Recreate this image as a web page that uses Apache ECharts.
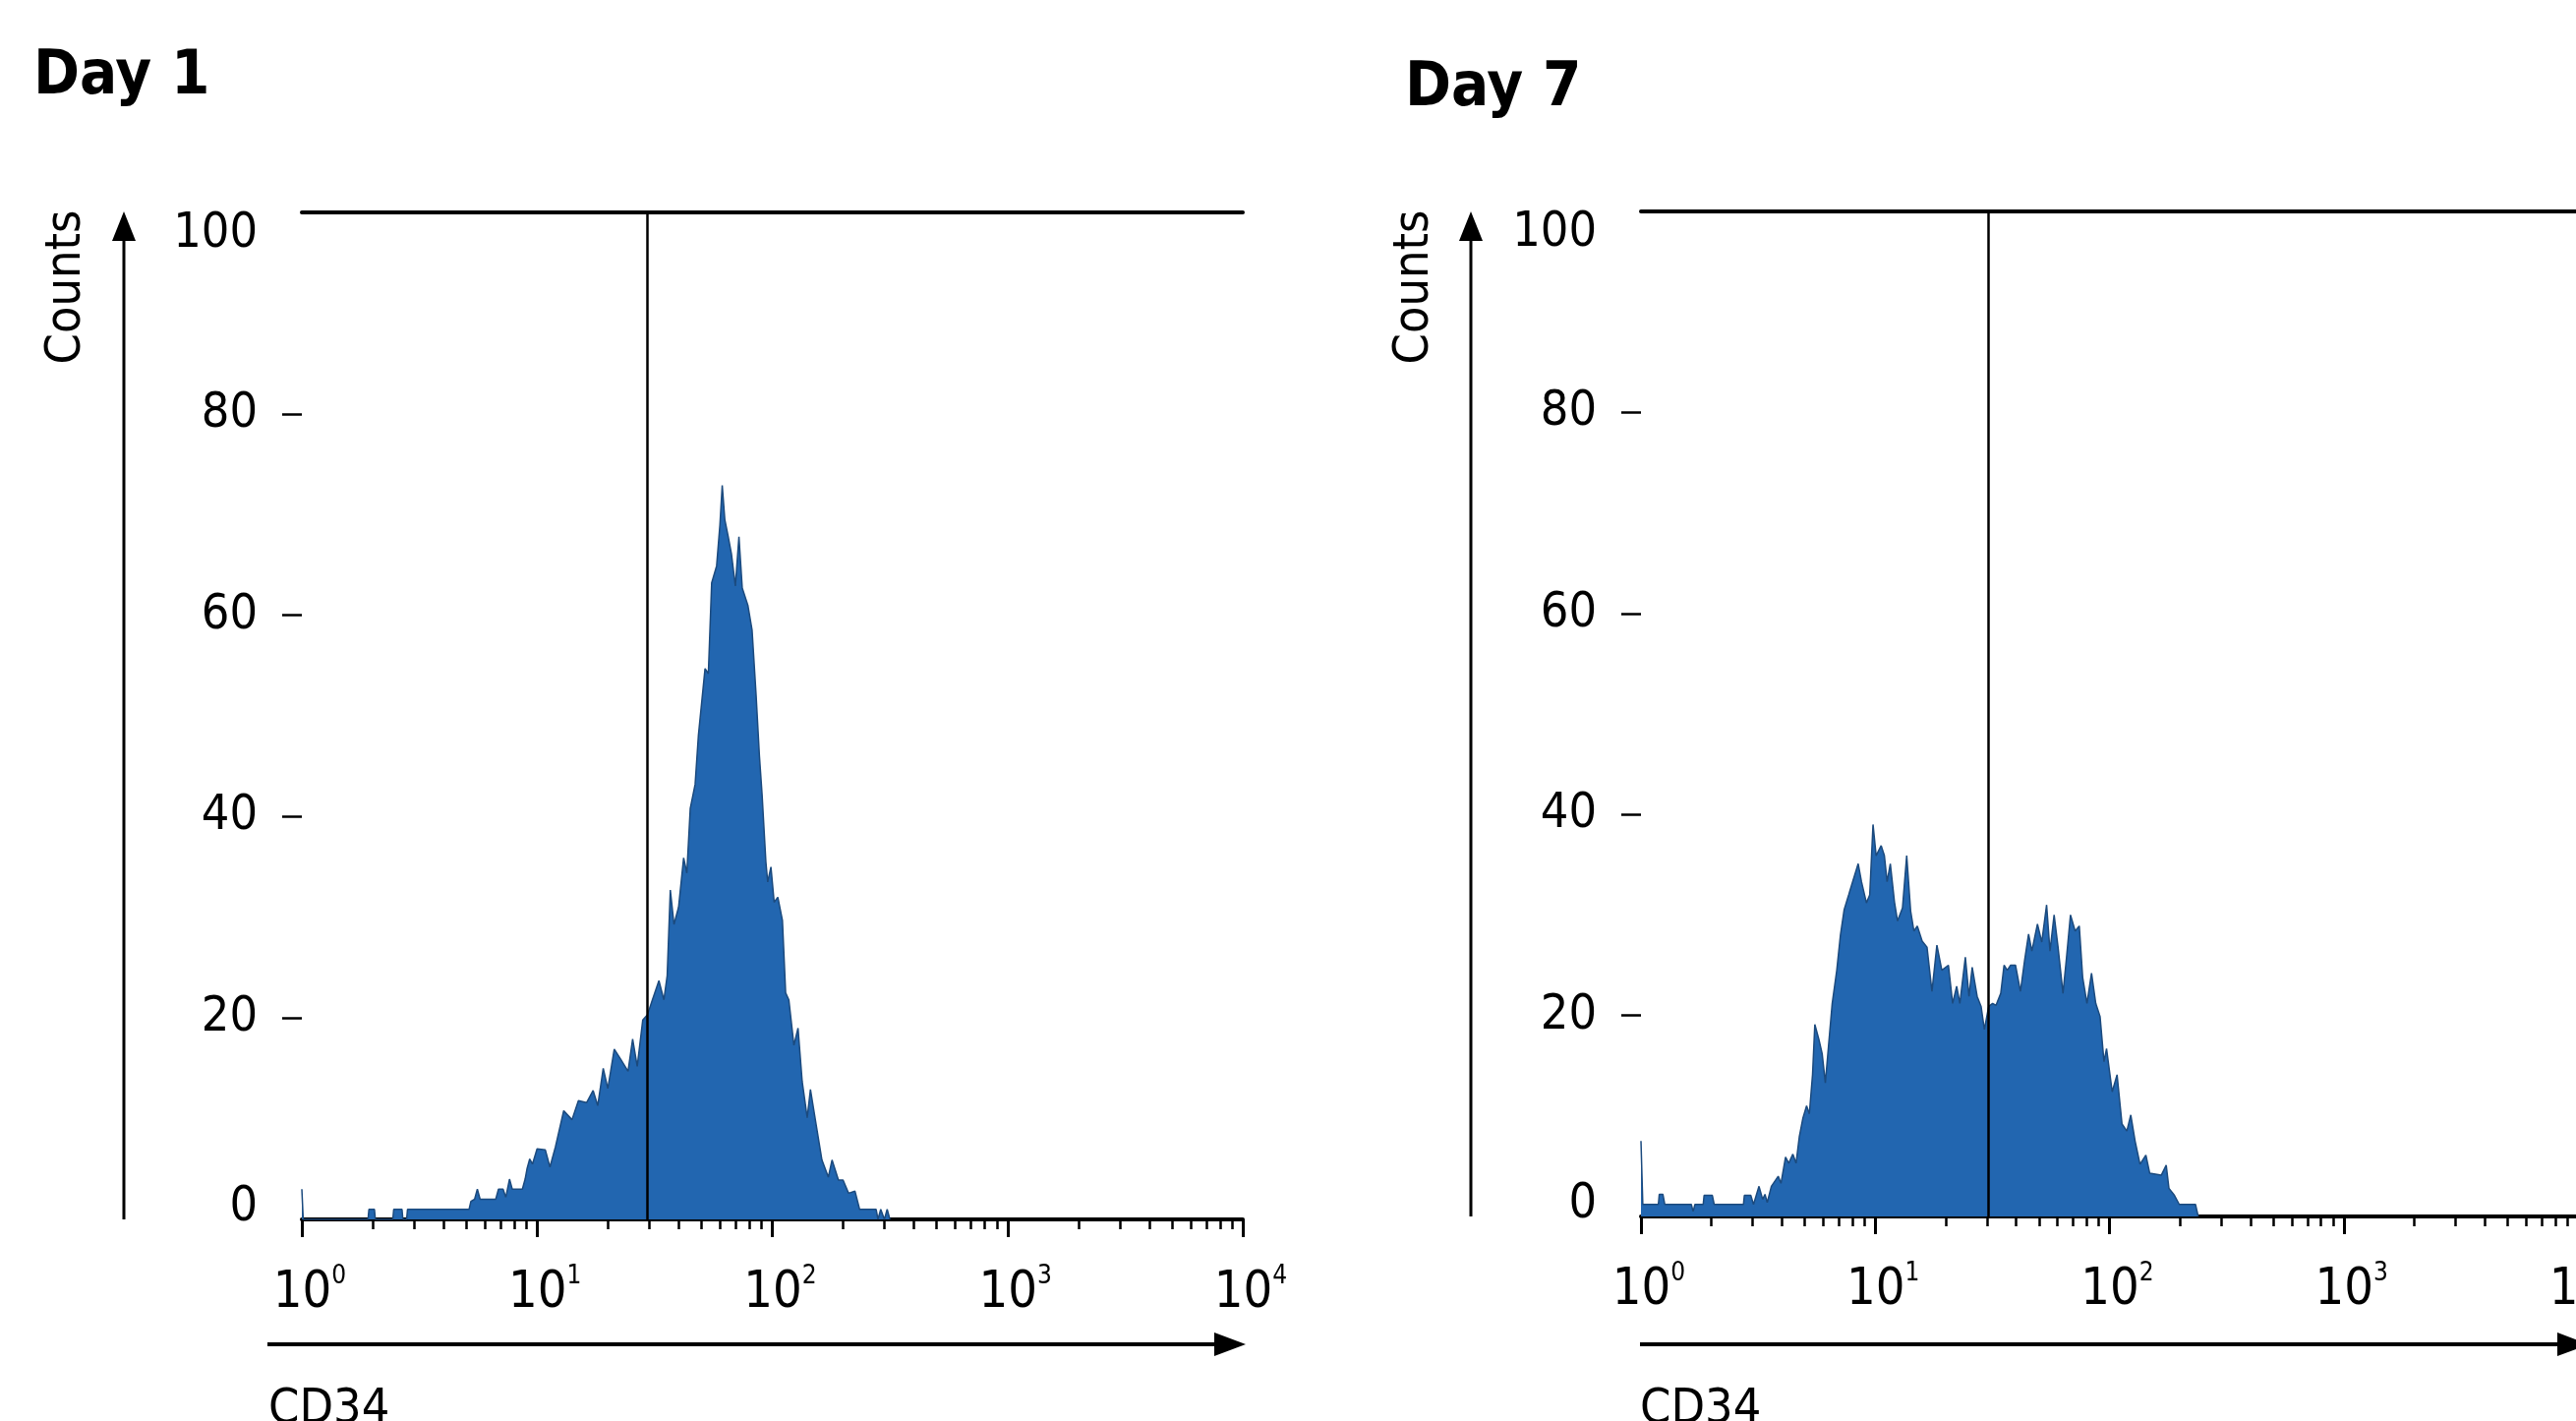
<!DOCTYPE html>
<html>
<head>
<meta charset="utf-8">
<title>CD34 Day 1 / Day 7</title>
<script src="https://cdn.jsdelivr.net/npm/echarts@6/dist/echarts.min.js"></script>
<style>
  html, body { margin: 0; padding: 0; background: #fff; }
  #chart { width: 2620px; height: 1445px; }
</style>
</head>
<body>
<div id="chart"></div>
<script>
// CD34 histograms, x in log channels (256 per decade), y in counts
const day1Channel = [0, 1.5, 72, 73, 79, 80, 99, 100, 109, 110, 114, 115, 182, 184, 188, 191, 194, 211, 214, 219,
  222, 226, 229, 240, 243, 245, 248, 251, 256, 265, 270, 276, 285, 294, 301, 310, 317, 322, 328, 333,
  340, 347, 355, 360, 365, 371, 376, 381.5, 388.6, 394, 397.6, 401, 405, 410, 415.5, 419, 422.7, 428, 431.6, 438.8,
  442.4, 446, 451.4, 455, 457.5, 460.3, 464, 467.5, 471.8, 475.7, 479.3, 485.4, 490, 494.4, 498, 501, 505, 507, 510.5, 514,
  518, 523, 526.5, 530, 535.5, 540, 544.5, 550, 553.5, 559, 566, 573, 577, 584, 589, 595, 602, 607, 625, 627,
  630, 634, 637, 640]
const day1Counts = [3, 0, 0, 1, 1, 0, 0, 1, 1, 0, 0, 1, 1, 1.8, 2, 3, 2, 2, 3, 3,
  2.2, 4, 3, 3, 4, 5, 6, 5.5, 7, 6.9, 5.2, 7.2, 10.8, 9.9, 11.8, 11.6, 12.8, 11.3, 15, 13,
  16.9, 15.9, 14.7, 17.9, 15.2, 19.8, 20.3, 21.8, 23.7, 21.8, 24.2, 32.7, 29.3, 31, 35.9, 34.4, 40.8, 43.2, 48.1, 54.7,
  54.2, 63.2, 64.9, 69, 72.9, 69.5, 67.8, 66.1, 62.9, 67.8, 62.7, 61, 58.5, 52, 46, 42, 35.5, 33.5, 35, 31.5,
  32, 29.7, 22.5, 21.8, 17.3, 19, 13.7, 10.1, 12.9, 9.8, 5.9, 4.2, 5.9, 3.9, 3.9, 2.6, 2.8, 1, 1, 0,
  1, 0, 1, 0]

const day7Channel = [0, 2, 19, 20, 24, 26, 55, 57, 59, 68,
  69, 78, 80, 112, 113, 120, 123, 129, 133, 135.5,
  138, 142.5, 150, 153, 158, 161.5, 166, 169.5, 173, 177,
  181, 184, 187.5, 190, 194.5, 198, 201.5, 205, 209, 214,
  218, 222, 227, 230.3, 237.4, 241, 246.4, 250, 253.6, 257,
  262.5, 266, 269, 272.5, 277, 280.4, 285.8, 290.4, 294.7, 298.3,
  302, 307.3, 312.6, 318, 323.4, 328.8, 336, 340.6, 345, 348.5,
  354.5, 358.5, 362, 367.4, 371.7, 375.3, 380, 384.3, 388, 393.2,
  396.8, 400.3, 404, 409.3, 414.7, 419.3, 423.6, 427.2, 433.3, 438,
  443.3, 447, 451.5, 455.8, 461.2, 464.8, 469.4, 474.5, 479, 482.7,
  487.4, 492.4, 497, 501.7, 506, 508.8, 515, 520.3, 525.7, 531,
  535.3, 540, 545.4, 551.8, 556, 568.6, 574, 577, 583, 588.3,
  606, 609]
const day7Counts = [7.5, 1.2, 1.2, 2.2, 2.2, 1.2, 1.2, 0.5, 1.2, 1.2,
  2.1, 2.1, 1.2, 1.2, 2.1, 2.1, 1.2, 3, 1.7, 2.2,
  1.4, 3, 4, 3.3, 5.9, 5.3, 6.2, 5.3, 7.9, 9.8,
  11, 10.2, 14.1, 19.1, 17.6, 16.2, 13.3, 17, 21.2, 24.5,
  28, 30.5, 32, 33, 35.1, 33.3, 31.2, 32, 39, 35.9,
  36.9, 35.9, 33.3, 35.1, 31.3, 29.4, 30.7, 35.9, 30.4, 28.4,
  28.9, 27.4, 26.8, 22.4, 27, 24.5, 25, 21.2, 22.9, 21.2,
  25.8, 21.9, 24.8, 21.9, 20.9, 18.6, 20.9, 21.2, 21, 22.2,
  25, 24.5, 25, 25, 22.4, 25.5, 28.1, 26.4, 29.1, 27.3,
  31, 26.4, 30, 26.8, 22.2, 25.5, 30, 28.4, 28.9, 23.8,
  21.2, 24.2, 21.2, 19.9, 15.4, 16.7, 12.4, 14.1, 9.2, 8.5,
  10.1, 7.5, 5.2, 6.1, 4.3, 4.1, 5.1, 2.8, 2.1, 1.2,
  1.2, 0]

// gate (marker) position in channels
const day1Gate = 376
const day7Gate = 380

const decadeExponents = [0, 1, 2, 3, 4]
const minorMultipliers = [2, 3, 4, 5, 6, 7, 8, 9]
const countTicks = [20, 40, 60, 80]
const CH_PER_DECADE = 256

const FONT = "'DejaVu Sans Condensed', 'DejaVu Sans', sans-serif"
const FILL = '#2266b0'
const EDGE = '#1b4a7e'

const minorTicks = []
decadeExponents.slice(0, -1).forEach(d => {
  minorMultipliers.forEach(m => minorTicks.push(CH_PER_DECADE * (d + Math.log10(m))))
})

const zip = (xs, ys) => xs.map((x, i) => [x, ys[i]])

const panels = [
  { grid: { left: 307, right: 1356, top: 216, bottom: 205 }, data: zip(day1Channel, day1Counts), gate: day1Gate },
  { grid: { left: 1669, right: -2, top: 215, bottom: 208 }, data: zip(day7Channel, day7Counts), gate: day7Gate }
]

const xLabel = (value) => {
  const exp = decadeExponents[Math.round(value / CH_PER_DECADE)]
  return '{b|10}{s|' + exp + '}'
}

const yLabel = (value) => {
  if (value === 100) return '{hi|100}'
  if (value === 0) return '{lo|0}'
  return '{n|' + value + '}'
}

const labelText = { fontFamily: FONT, fontSize: 50, color: '#000' }

const grids = []
const xAxes = []
const yAxes = []
const series = []

panels.forEach((p, i) => {
  grids.push(Object.assign({ containLabel: false, outerBoundsMode: 'none' }, p.grid))

  // main axis: decades
  xAxes.push({
    gridIndex: i, type: 'value', min: 0, max: 1024, interval: CH_PER_DECADE, position: 'bottom',
    axisLine: { lineStyle: { color: '#000', width: 4 } },
    axisTick: { length: 18, lineStyle: { color: '#000', width: 3 } },
    axisLabel: {
      margin: 45, formatter: xLabel,
      rich: {
        b: Object.assign({}, labelText, { fontSize: 52, lineHeight: 60, padding: [0, 0, 0, 16] }),
        s: Object.assign({}, labelText, { fontSize: 26, lineHeight: 40, verticalAlign: 'top' })
      }
    },
    splitLine: { show: false }
  })
  // minor ticks 2..9 per decade
  xAxes.push({
    gridIndex: i, type: 'value', min: 0, max: 1024, position: 'bottom',
    axisLine: { show: false },
    axisTick: { customValues: minorTicks, length: 10, lineStyle: { color: '#000', width: 2.5 } },
    axisLabel: { show: false },
    splitLine: { show: false }
  })
  // top frame line
  xAxes.push({
    gridIndex: i, type: 'value', min: 0, max: 1024, position: 'top',
    axisLine: { lineStyle: { color: '#000', width: 4 } },
    axisTick: { show: false },
    axisLabel: { show: false },
    splitLine: { show: false }
  })

  yAxes.push({
    gridIndex: i, type: 'value', min: 0, max: 100, interval: 20,
    axisLine: { show: false },
    axisTick: { show: true, customValues: countTicks, length: 20, lineStyle: { color: '#000', width: 2.5 } },
    axisLabel: {
      margin: 45, formatter: yLabel,
      rich: {
        n: Object.assign({}, labelText),
        hi: Object.assign({}, labelText, { padding: [44, 0, 0, 0] }),
        lo: Object.assign({}, labelText, { padding: [0, 0, 24, 0] })
      }
    },
    splitLine: { show: false }
  })

  series.push({
    type: 'line',
    xAxisIndex: i * 3,
    yAxisIndex: i,
    data: p.data,
    showSymbol: false,
    symbol: 'none',
    lineStyle: { color: EDGE, width: 1.5 },
    areaStyle: { color: FILL, opacity: 1 },
    z: 2,
    markLine: {
      silent: true,
      symbol: ['none', 'none'],
      label: { show: false },
      lineStyle: { color: '#000', width: 2.5, type: 'solid' },
      data: [{ xAxis: p.gate }]
    }
  })
})

// axis arrows and text decorations
const arrowY = (x, yBottom, yTip) => [
  { type: 'line', shape: { x1: x, y1: yBottom, x2: x, y2: yTip + 20 }, style: { stroke: '#000', lineWidth: 3 } },
  { type: 'polygon', shape: { points: [[x, yTip], [x - 12, yTip + 30], [x + 12, yTip + 30]] }, style: { fill: '#000' } }
]
const arrowX = (x1, xTip, y) => [
  { type: 'line', shape: { x1: x1, y1: y, x2: xTip - 20, y2: y }, style: { stroke: '#000', lineWidth: 4 } },
  { type: 'polygon', shape: { points: [[xTip, y], [xTip - 32, y - 12], [xTip - 32, y + 12]] }, style: { fill: '#000' } }
]
const text = (str, x, y, size, weight, rotation, align) => ({
  type: 'text', x: x, y: y, rotation: rotation || 0,
  style: { text: str, font: weight + ' ' + size + 'px ' + FONT, fill: '#000', align: align || 'left', verticalAlign: 'middle' }
})

const graphics = [].concat(
  [text('Day 1', 34, 79, 63, 'bold'), text('Day 7', 1429, 91, 63, 'bold')],
  arrowY(126, 1240, 215), arrowY(1496, 1237, 215),
  arrowX(272, 1267, 1367), arrowX(1668, 2633, 1367),
  [
    text('Counts', 68, 292, 50, 'normal', Math.PI / 2, 'center'),
    text('Counts', 1439, 292, 50, 'normal', Math.PI / 2, 'center'),
    text('CD34', 273, 1434, 50, 'normal'),
    text('CD34', 1668, 1434, 50, 'normal')
  ]
)

const chart = echarts.init(document.getElementById('chart'), null, { renderer: 'canvas' })
chart.setOption({
  animation: false,
  backgroundColor: '#fff',
  grid: grids,
  xAxis: xAxes,
  yAxis: yAxes,
  series: series,
  graphic: graphics
})
</script>
</body>
</html>
